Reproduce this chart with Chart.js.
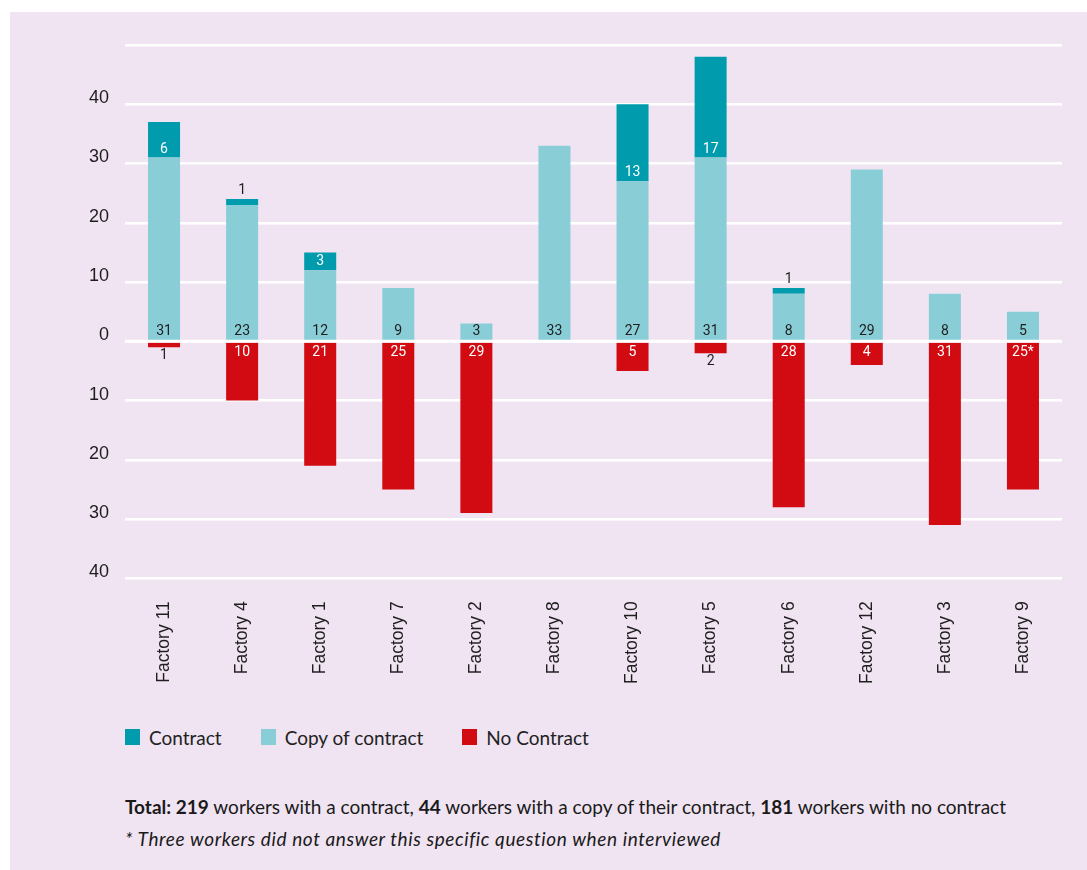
<!DOCTYPE html>
<html>
<head>
<meta charset="utf-8">
<title>Contracts by factory</title>
<script src="https://cdn.jsdelivr.net/npm/chart.js@4.4.1/dist/chart.umd.min.js"></script>
<style>
  html, body { margin: 0; padding: 0; background: #fff; }
  body { width: 1087px; height: 870px; position: relative; overflow: hidden; }
  #panel { position: absolute; left: 10px; top: 12px; right: 0; bottom: 0; background: #f0e4f2; }
  #chart { position: absolute; left: 0; top: 0; }
  #legend { position: absolute; left: 125px; top: 727px; display: flex; font: 19px Lato, sans-serif; color: #222; }
  #legend .item { display: flex; align-items: center; margin-right: 39px; height: 20px; }
  #legend .box { width: 15px; height: 16px; margin-right: 9px; }
  #notes { position: absolute; left: 125px; top: 791px; font: 19px Lato, sans-serif; color: #1a1a1a; line-height: 32px; }
  #notes p { margin: 0; }
  #notes i { letter-spacing: 0.6px; }
</style>
</head>
<body>
<div id="panel"></div>
<canvas id="chart" width="1087" height="720"></canvas>
<div id="legend"></div>
<div id="notes">
  <p><b>Total: 219</b> workers with a contract, <b>44</b> workers with a copy of their contract, <b>181</b> workers with no contract</p>
  <p><i>* Three workers did not answer this specific question when interviewed</i></p>
</div>
<script>
(function () {
  'use strict';

  // ── data ───────────────────────────────────────────────
  const factories = ['Factory 11', 'Factory 4', 'Factory 1', 'Factory 7', 'Factory 2', 'Factory 8',
                     'Factory 10', 'Factory 5', 'Factory 6', 'Factory 12', 'Factory 3', 'Factory 9'];
  const copyOfContract = [31, 23, 12, 9, 3, 33, 27, 31, 8, 29, 8, 5];
  const contract       = [6, 1, 3, null, null, null, 13, 17, 1, null, null, null];
  const noContract     = [1, 10, 21, 25, 29, null, 5, 2, 28, 4, 31, 25];
  const noContractMark = ['', '', '', '', '', '', '', '', '', '', '', '*'];
  const yTicks = [-40, -30, -20, -10, 0, 10, 20, 30, 40, 50];

  const TEAL = '#009cad';
  const LIGHT = '#89cdd7';
  const RED = '#d20a11';
  const DARK = '#1e1e1e';
  const LEGEND_ORDER = [1, 0, 2];

  // labels inside the bars (or just outside when the bar is too short)
  const barLabels = {
    id: 'barLabels',
    afterDatasetsDraw(chart) {
      const { ctx, chartArea } = chart;
      const zeroY = chart.scales.y.getPixelForValue(0);
      ctx.save();
      ctx.strokeStyle = '#fff';
      ctx.lineWidth = 3;
      ctx.beginPath();
      ctx.moveTo(chartArea.left, zeroY);
      ctx.lineTo(chartArea.right, zeroY);
      ctx.stroke();

      ctx.font = '14px Roboto, sans-serif';
      ctx.textAlign = 'center';
      ctx.textBaseline = 'middle';
      chart.data.datasets.forEach((ds, di) => {
        const meta = chart.getDatasetMeta(di);
        meta.data.forEach((bar, i) => {
          const raw = ds.data[i];
          if (raw == null) return;
          const v = Math.abs(raw);
          const top = Math.min(bar.y, bar.base);
          const bottom = Math.max(bar.y, bar.base);
          const inside = v >= 3;
          let y, color, txt = String(v);
          if (ds.key === 'copy') {
            y = bottom - 9; color = DARK;
          } else if (ds.key === 'contract') {
            if (inside) { y = bottom - 8.5; color = '#fff'; }
            else { y = top - 8.5; color = DARK; }
          } else {
            txt += noContractMark[i] || '';
            if (inside) { y = top + 10; color = '#fff'; }
            else { y = bottom + 8.5; color = DARK; }
          }
          ctx.fillStyle = color;
          ctx.fillText(txt, bar.x, y);
        });
      });
      ctx.restore();
    }
  };

  const chart = new Chart(document.getElementById('chart').getContext('2d'), {
    type: 'bar',
    plugins: [barLabels],
    data: {
      labels: factories,
      datasets: [
        { key: 'copy', label: 'Copy of contract', data: copyOfContract, backgroundColor: LIGHT },
        { key: 'contract', label: 'Contract', data: contract, backgroundColor: TEAL },
        { key: 'none', label: 'No Contract', data: noContract.map(v => v == null ? null : -v), backgroundColor: RED }
      ]
    },
    options: {
      responsive: false,
      animation: false,
      barPercentage: 0.41,
      categoryPercentage: 1,
      layout: { padding: { top: 45, right: 25, bottom: 0, left: 0 } },
      plugins: {
        legend: { display: false },
        tooltip: { enabled: false }
      },
      scales: {
        x: {
          stacked: true,
          grid: { display: false, drawTicks: false },
          border: { display: false },
          ticks: {
            autoSkip: false, minRotation: 90, maxRotation: 90, padding: 23,
            color: DARK, font: { family: 'Liberation Sans', size: 17.5 }
          },
          afterFit: s => { s.height = 141.7; }
        },
        y: {
          stacked: true,
          min: -40, max: 50,
          afterBuildTicks: s => { s.ticks = yTicks.map(v => ({ value: v })); },
          grid: { color: '#ffffff', lineWidth: 2.5, drawTicks: false },
          border: { display: false },
          ticks: {
            padding: 16, labelOffset: -6,
            color: DARK, font: { family: 'Liberation Sans', size: 18 },
            callback: v => v === 50 ? '' : String(Math.abs(v))
          },
          afterFit: s => { s.width = 125; }
        }
      }
    }
  });

  // html legend in the reference order
  const legend = document.getElementById('legend');
  LEGEND_ORDER.forEach(idx => {
    const ds = chart.data.datasets[idx];
    const item = document.createElement('div');
    item.className = 'item';
    item.innerHTML = '<span class="box" style="background:' + ds.backgroundColor + '"></span><span>' + ds.label + '</span>';
    legend.appendChild(item);
  });
})();
</script>
</body>
</html>
